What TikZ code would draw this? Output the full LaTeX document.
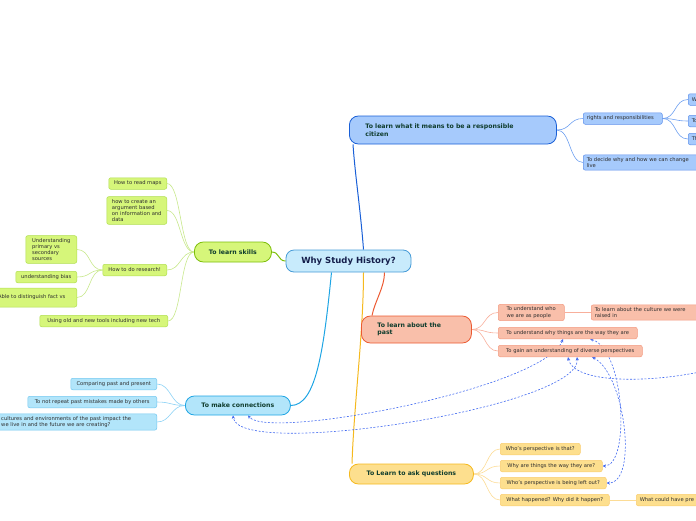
\documentclass[tikz,border=0pt]{standalone}
\usepackage{fontspec}
\setmainfont{DejaVu Sans}
\usetikzlibrary{positioning,arrows.meta,backgrounds}

\definecolor{rootfill}{RGB}{200,235,252}
\definecolor{rootline}{RGB}{70,155,215}
\definecolor{rootink}{RGB}{20,30,75}
\definecolor{topicink}{RGB}{15,60,45}
\definecolor{leafink}{RGB}{45,45,45}
\definecolor{relblue}{RGB}{65,105,240}
% citizen
\definecolor{citfill}{RGB}{166,202,252}
\definecolor{citline}{RGB}{25,95,215}
\definecolor{citedge}{RGB}{95,145,235}
\definecolor{citwire}{RGB}{110,160,240}
% skills
\definecolor{skifill}{RGB}{214,246,122}
\definecolor{skiline}{RGB}{125,190,10}
\definecolor{skiedge}{RGB}{175,222,80}
\definecolor{skiwire}{RGB}{200,232,140}
% past
\definecolor{pasfill}{RGB}{249,191,170}
\definecolor{pasline}{RGB}{236,90,50}
\definecolor{pasedge}{RGB}{243,155,130}
\definecolor{paswire}{RGB}{248,175,155}
% connections
\definecolor{confill}{RGB}{178,229,250}
\definecolor{conline}{RGB}{30,165,228}
\definecolor{conedge}{RGB}{115,200,240}
\definecolor{conwire}{RGB}{140,210,245}
% questions
\definecolor{quefill}{RGB}{253,223,142}
\definecolor{queline}{RGB}{245,185,30}
\definecolor{queedge}{RGB}{250,205,110}
\definecolor{quewire}{RGB}{252,220,150}

\newcommand{\rootfont}{\fontsize{8.5}{10}\selectfont\bfseries}
\newcommand{\topicfont}{\fontsize{6.2}{7.4}\selectfont\bfseries}
\newcommand{\leaffont}{\fontsize{5.2}{6.2}\selectfont}

\begin{document}
\begin{tikzpicture}[
  x=1pt,y=-1pt,
  root/.style={draw=rootline,fill=rootfill,line width=0.8pt,rounded corners=8pt,
    font=\rootfont,text=rootink,minimum width=125pt,minimum height=22pt,inner sep=0pt},
  topic/.style={line width=0.8pt,rounded corners=9pt,font=\topicfont,text=topicink,
    inner sep=0pt,anchor=west,align=left},
  leaf/.style={line width=0.5pt,rounded corners=2pt,font=\leaffont,text=leafink,
    inner xsep=3.5pt,inner ysep=2.5pt,minimum height=11.5pt,align=left},
  cit/.style={draw=citedge,fill=citfill},
  ski/.style={draw=skiedge,fill=skifill},
  pas/.style={draw=pasedge,fill=pasfill},
  con/.style={draw=conedge,fill=confill},
  que/.style={draw=queedge,fill=quefill},
  wire/.style={line width=0.6pt},
  rel/.style={draw=relblue,dash pattern=on 2pt off 1.6pt,line width=0.6pt},
  tip/.tip={Stealth[length=3.5pt,width=3.2pt]}
]
\useasboundingbox (0,0) rectangle (696,520);

% centre
\node[root] (root) at (348.5,261) {Why Study History?};

% main topics
\node[topic,draw=citline,fill=citfill,inner xsep=16pt,text width=175pt,minimum height=28pt] (cit) at (349,130)
  {To learn what it means to be a responsible\\citizen};
\node[topic,draw=skiline,fill=skifill,minimum width=77pt,minimum height=20pt] (skills) at (194,252)
  {To learn skills};
\node[topic,draw=pasline,fill=pasfill,inner xsep=16pt,text width=78pt,minimum height=27pt] (past) at (361,329.5)
  {To learn about the\\past};
\node[topic,draw=conline,fill=confill,minimum width=105pt,minimum height=19pt] (conn) at (185,405.5)
  {To make connections};
\node[topic,draw=queline,fill=quefill,minimum width=124pt,minimum height=20pt] (ques) at (349,474)
  {To Learn to ask questions};

% citizen
\node[leaf,cit,anchor=west,text width=72pt] (rights) at (583,118.5) {rights and responsibilities};
\node[leaf,cit,anchor=west,text width=118pt] (decide) at (583,162.5) {To decide why and how we can change\\live};
\node[leaf,cit,anchor=west,text width=14pt] (w) at (688,99.5) {W};
\node[leaf,cit,anchor=west,text width=14pt] (to) at (688,121) {To};
\node[leaf,cit,anchor=west,text width=14pt] (th) at (688,139) {Th};

% skills
\node[leaf,ski,anchor=east,minimum width=58pt] (maps) at (167,183.5) {How to read maps};
\node[leaf,ski,anchor=east,minimum width=60pt] (argue) at (167,210.5)
  {how to create an\\argument based\\on information and\\data};
\node[leaf,ski,anchor=east,minimum width=64pt] (research) at (167,270) {How to do research!};
\node[leaf,ski,anchor=east,minimum width=128pt] (tools) at (168,321) {Using old and new tools including new tech};
\node[leaf,ski,anchor=east,minimum width=51pt] (sources) at (77,249.5)
  {Understanding\\primary vs\\secondary\\sources};
\node[leaf,ski,anchor=east,minimum width=61pt] (bias) at (77,277) {understanding bias};
\node[leaf,ski,anchor=east,minimum width=90pt,minimum height=19pt] (fact) at (77,297.5) {Able to distinguish fact vs};

% past
\node[leaf,pas,anchor=west,minimum width=66pt] (who) at (498,312.5) {To understand who\\we are as people};
\node[leaf,pas,anchor=west,text width=110pt] (culture) at (591,312.5) {To learn about the culture we were\\raised in};
\node[leaf,pas,anchor=west,minimum width=139pt] (why) at (498,333) {To understand why things are the way they are};
\node[leaf,pas,anchor=west,minimum width=144pt] (gain) at (498,351) {To gain an understanding of diverse perspectives};

% connections
\node[leaf,con,anchor=east,minimum width=86pt] (compare) at (157,384) {Comparing past and present};
\node[leaf,con,anchor=east,minimum width=129pt] (mistakes) at (157,402) {To not repeat past mistakes made by others};
\node[leaf,con,anchor=east,text width=152pt] (cultures) at (157,422)
  {cultures and environments of the past impact the\\we live in and the future we are creating?};

% questions
\node[leaf,que,anchor=west,minimum width=80pt] (that) at (500,449) {Who's perspective is that?};
\node[leaf,que,anchor=west,minimum width=102pt] (way) at (500,466) {Why are things the way they are?};
\node[leaf,que,anchor=west,minimum width=106pt] (leftout) at (500,483) {Who's perspective is being left out?};
\node[leaf,que,anchor=west,minimum width=109pt] (happened) at (500,500) {What happened? Why did it happen?};
\node[leaf,que,anchor=west,text width=70pt] (could) at (636,500) {What could have pre};

\coordinate (offright) at (700,372);

\begin{scope}[on background layer]
  % branches from the centre
  \draw[draw=citline,line width=1pt] ([xshift=15pt]root.north) .. controls +(-3,-40) and +(2,30) .. ([xshift=4pt]cit.south west);
  \draw[draw=skiline,line width=1pt] (root.west) .. controls +(-8,0) and +(8,0) .. (skills.east);
  \draw[draw=pasline,line width=1pt] ([xshift=36pt]root.south) .. controls +(0,15) and +(3,-15) .. ([xshift=11pt]past.north west);
  \draw[draw=conline,line width=1pt] ([xshift=-17pt]root.south) .. controls +(-8,80) and +(25,0) .. (conn.east);
  \draw[draw=queline,line width=1pt] ([xshift=15pt]root.south) .. controls +(0,60) and +(2,-60) .. ([xshift=3pt]ques.north west);

  % sub branches
  \foreach \c in {rights,decide}
    \draw[wire,citwire] (cit.east) .. controls +(14,0) and +(-14,0) .. (\c.west);
  \foreach \c in {w,to,th}
    \draw[wire,citwire] (rights.east) .. controls +(14,0) and +(-14,0) .. (\c.west);
  \foreach \c in {maps,argue,research,tools}
    \draw[wire,skiwire] (skills.west) .. controls +(-14,0) and +(14,0) .. (\c.east);
  \foreach \c in {sources,bias,fact}
    \draw[wire,skiwire] (research.west) .. controls +(-14,0) and +(14,0) .. (\c.east);
  \foreach \c in {who,why,gain}
    \draw[wire,paswire] (past.east) .. controls +(14,0) and +(-14,0) .. (\c.west);
  \draw[wire,paswire] (who.east) -- (culture.west);
  \foreach \c in {compare,mistakes,cultures}
    \draw[wire,conwire] (conn.west) .. controls +(-14,0) and +(14,0) .. (\c.east);
  \foreach \c in {that,way,leftout,happened}
    \draw[wire,quewire] (ques.east) .. controls +(14,0) and +(-14,0) .. (\c.west);
  \draw[wire,quewire] (happened.east) -- (could.west);

  % relationships
  \draw[rel,{tip}-{tip}] ([xshift=65pt]why.south west) .. controls +(-20,50) and +(20,25) .. ([xshift=63pt]conn.south west);
  \draw[rel,{tip}-{tip}] ([xshift=79pt]gain.south west) .. controls +(5,50) and +(5,45) .. ([xshift=48pt]conn.south west);
  \draw[rel,-{tip}] (offright) .. controls +(-60,12) and +(5,25) .. ([xshift=70pt]gain.south west);
  \draw[rel,{tip}-{tip}] ([xshift=94pt]gain.south west) .. controls +(33,17) and +(32,0) .. (leftout.east);
  \draw[rel,{tip}-{tip}] ([xshift=92pt]why.south west) .. controls +(35,10) and +(28,0) .. (way.east);
\end{scope}

\end{tikzpicture}
\end{document}
